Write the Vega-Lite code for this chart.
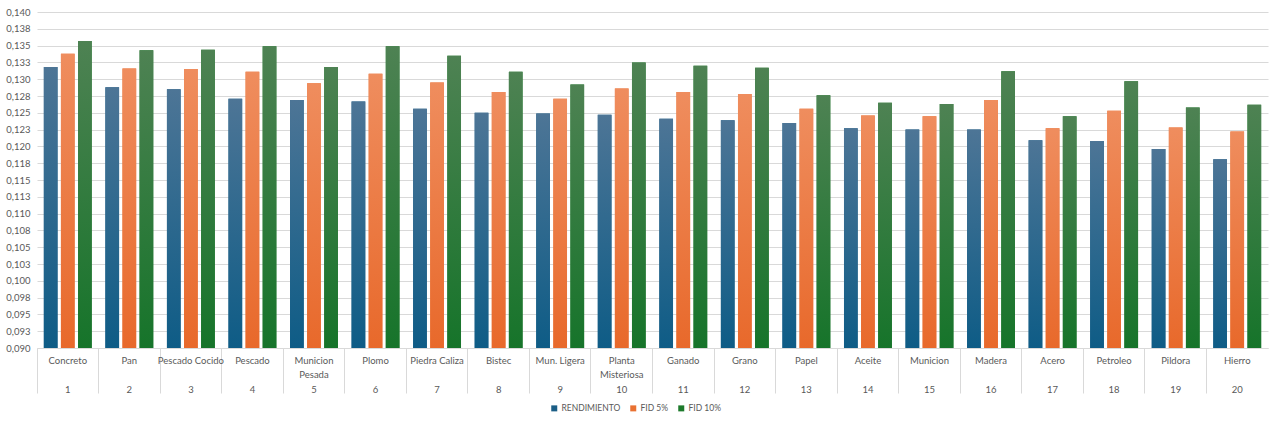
{
  "$schema": "https://vega.github.io/schema/vega-lite/v6.json",
  "description": "Rendimiento y FID por producto",
  "autosize": {"type": "none"},
  "padding": {"left": 37, "top": 12, "right": 12, "bottom": 77},
  "width": 1231,
  "height": 336,
  "background": "white",
  "config": {
    "font": "Lato",
    "view": {"stroke": null},
    "axis": {"labelColor": "#595959", "labelFont": "Lato", "labelFontSize": 9.5}
  },
  "data": {
    "values": [
      {"n": 1, "nombre": "Concreto", "serie": "RENDIMIENTO", "valor": 0.1318},
      {"n": 1, "nombre": "Concreto", "serie": "FID 5%", "valor": 0.1338},
      {"n": 1, "nombre": "Concreto", "serie": "FID 10%", "valor": 0.1357},
      {"n": 2, "nombre": "Pan", "serie": "RENDIMIENTO", "valor": 0.1288},
      {"n": 2, "nombre": "Pan", "serie": "FID 5%", "valor": 0.1316},
      {"n": 2, "nombre": "Pan", "serie": "FID 10%", "valor": 0.1343},
      {"n": 3, "nombre": "Pescado Cocido", "serie": "RENDIMIENTO", "valor": 0.1285},
      {"n": 3, "nombre": "Pescado Cocido", "serie": "FID 5%", "valor": 0.1315},
      {"n": 3, "nombre": "Pescado Cocido", "serie": "FID 10%", "valor": 0.1344},
      {"n": 4, "nombre": "Pescado", "serie": "RENDIMIENTO", "valor": 0.1271},
      {"n": 4, "nombre": "Pescado", "serie": "FID 5%", "valor": 0.1311},
      {"n": 4, "nombre": "Pescado", "serie": "FID 10%", "valor": 0.1349},
      {"n": 5, "nombre": "Municion Pesada", "serie": "RENDIMIENTO", "valor": 0.1269},
      {"n": 5, "nombre": "Municion Pesada", "serie": "FID 5%", "valor": 0.1294},
      {"n": 5, "nombre": "Municion Pesada", "serie": "FID 10%", "valor": 0.1318},
      {"n": 6, "nombre": "Plomo", "serie": "RENDIMIENTO", "valor": 0.1267},
      {"n": 6, "nombre": "Plomo", "serie": "FID 5%", "valor": 0.1308},
      {"n": 6, "nombre": "Plomo", "serie": "FID 10%", "valor": 0.1349},
      {"n": 7, "nombre": "Piedra Caliza", "serie": "RENDIMIENTO", "valor": 0.1256},
      {"n": 7, "nombre": "Piedra Caliza", "serie": "FID 5%", "valor": 0.1295},
      {"n": 7, "nombre": "Piedra Caliza", "serie": "FID 10%", "valor": 0.1335},
      {"n": 8, "nombre": "Bistec", "serie": "RENDIMIENTO", "valor": 0.1250},
      {"n": 8, "nombre": "Bistec", "serie": "FID 5%", "valor": 0.1281},
      {"n": 8, "nombre": "Bistec", "serie": "FID 10%", "valor": 0.1311},
      {"n": 9, "nombre": "Mun. Ligera", "serie": "RENDIMIENTO", "valor": 0.1249},
      {"n": 9, "nombre": "Mun. Ligera", "serie": "FID 5%", "valor": 0.1271},
      {"n": 9, "nombre": "Mun. Ligera", "serie": "FID 10%", "valor": 0.1292},
      {"n": 10, "nombre": "Planta Misteriosa", "serie": "RENDIMIENTO", "valor": 0.1247},
      {"n": 10, "nombre": "Planta Misteriosa", "serie": "FID 5%", "valor": 0.1286},
      {"n": 10, "nombre": "Planta Misteriosa", "serie": "FID 10%", "valor": 0.1325},
      {"n": 11, "nombre": "Ganado", "serie": "RENDIMIENTO", "valor": 0.1241},
      {"n": 11, "nombre": "Ganado", "serie": "FID 5%", "valor": 0.1281},
      {"n": 11, "nombre": "Ganado", "serie": "FID 10%", "valor": 0.1320},
      {"n": 12, "nombre": "Grano", "serie": "RENDIMIENTO", "valor": 0.1239},
      {"n": 12, "nombre": "Grano", "serie": "FID 5%", "valor": 0.1278},
      {"n": 12, "nombre": "Grano", "serie": "FID 10%", "valor": 0.1317},
      {"n": 13, "nombre": "Papel", "serie": "RENDIMIENTO", "valor": 0.1235},
      {"n": 13, "nombre": "Papel", "serie": "FID 5%", "valor": 0.1256},
      {"n": 13, "nombre": "Papel", "serie": "FID 10%", "valor": 0.1276},
      {"n": 14, "nombre": "Aceite", "serie": "RENDIMIENTO", "valor": 0.1227},
      {"n": 14, "nombre": "Aceite", "serie": "FID 5%", "valor": 0.1246},
      {"n": 14, "nombre": "Aceite", "serie": "FID 10%", "valor": 0.1265},
      {"n": 15, "nombre": "Municion", "serie": "RENDIMIENTO", "valor": 0.1225},
      {"n": 15, "nombre": "Municion", "serie": "FID 5%", "valor": 0.1245},
      {"n": 15, "nombre": "Municion", "serie": "FID 10%", "valor": 0.1263},
      {"n": 16, "nombre": "Madera", "serie": "RENDIMIENTO", "valor": 0.1225},
      {"n": 16, "nombre": "Madera", "serie": "FID 5%", "valor": 0.1269},
      {"n": 16, "nombre": "Madera", "serie": "FID 10%", "valor": 0.1312},
      {"n": 17, "nombre": "Acero", "serie": "RENDIMIENTO", "valor": 0.1209},
      {"n": 17, "nombre": "Acero", "serie": "FID 5%", "valor": 0.1227},
      {"n": 17, "nombre": "Acero", "serie": "FID 10%", "valor": 0.1245},
      {"n": 18, "nombre": "Petroleo", "serie": "RENDIMIENTO", "valor": 0.1208},
      {"n": 18, "nombre": "Petroleo", "serie": "FID 5%", "valor": 0.1253},
      {"n": 18, "nombre": "Petroleo", "serie": "FID 10%", "valor": 0.1297},
      {"n": 19, "nombre": "Pildora", "serie": "RENDIMIENTO", "valor": 0.1196},
      {"n": 19, "nombre": "Pildora", "serie": "FID 5%", "valor": 0.1228},
      {"n": 19, "nombre": "Pildora", "serie": "FID 10%", "valor": 0.1258},
      {"n": 20, "nombre": "Hierro", "serie": "RENDIMIENTO", "valor": 0.1181},
      {"n": 20, "nombre": "Hierro", "serie": "FID 5%", "valor": 0.1222},
      {"n": 20, "nombre": "Hierro", "serie": "FID 10%", "valor": 0.1262}
    ]
  },
  "encoding": {
    "x": {
      "field": "nombre",
      "type": "nominal",
      "sort": null,
      "title": null,
      "scale": {"paddingInner": 0, "paddingOuter": 0},
      "axis": {
        "labelAngle": 0,
        "bandPosition": 0,
        "labelAlign": "center",
        "labelBaseline": "top",
        "labelPadding": -38,
        "labelLineHeight": 14.5,
        "labelExpr": "length(datum.value) > 14 ? [split(datum.value, ' ')[0], split(datum.value, ' ')[1], '' + (indexof(domain('x'), datum.value) + 1)] : [datum.value, '\u200b', '' + (indexof(domain('x'), datum.value) + 1)]",
        "tickSize": 45,
        "tickColor": "#d9d9d9",
        "domainColor": "#d9d9d9",
        "grid": false
      }
    },
    "xOffset": {
      "field": "serie",
      "type": "nominal",
      "scale": {"domain": ["RENDIMIENTO", "FID 5%", "FID 10%"], "paddingInner": 0.2, "paddingOuter": 0.4}
    },
    "y": {
      "field": "valor",
      "type": "quantitative",
      "title": null,
      "scale": {"domain": [0.09, 0.14], "zero": false, "nice": false, "clamp": true},
      "axis": {
        "values": [0.09, 0.0925, 0.095, 0.0975, 0.1, 0.1025, 0.105, 0.1075, 0.11, 0.1125, 0.115, 0.1175, 0.12, 0.1225, 0.125, 0.1275, 0.13, 0.1325, 0.135, 0.1375, 0.14],
        "labelExpr": "replace(format(datum.value + 0.000001, '.3f'), '.', ',')",
        "domain": false,
        "ticks": false,
        "labelPadding": 7,
        "gridColor": "#d9d9d9"
      }
    }
  },
  "layer": [
    {
      "mark": {"type": "bar", "clip": true},
      "encoding": {
        "color": {
          "field": "serie",
          "type": "nominal",
          "scale": {"domain": ["RENDIMIENTO", "FID 5%", "FID 10%"], "range": ["#1b5e86", "#e97132", "#1d7a2b"]},
          "legend": {
            "title": null,
            "orient": "none",
            "direction": "horizontal",
            "legendX": 513,
            "legendY": 392,
            "symbolType": "square",
            "symbolSize": 36,
            "labelFontSize": 8.5,
            "labelOffset": 3,
            "labelColor": "#595959",
            "labelFont": "Lato",
            "columnPadding": 8
          }
        }
      }
    },
    {
      "transform": [{"filter": "datum.serie === 'RENDIMIENTO'"}],
      "mark": {
        "type": "bar",
        "clip": true,
        "color": {"gradient": "linear", "x1": 0, "y1": 0, "x2": 0, "y2": 1, "stops": [{"offset": 0, "color": "#4d7596"}, {"offset": 1, "color": "#0e5c86"}]}
      }
    },
    {
      "transform": [{"filter": "datum.serie === 'FID 5%'"}],
      "mark": {
        "type": "bar",
        "clip": true,
        "color": {"gradient": "linear", "x1": 0, "y1": 0, "x2": 0, "y2": 1, "stops": [{"offset": 0, "color": "#ef8d5e"}, {"offset": 1, "color": "#e8692b"}]}
      }
    },
    {
      "transform": [{"filter": "datum.serie === 'FID 10%'"}],
      "mark": {
        "type": "bar",
        "clip": true,
        "color": {"gradient": "linear", "x1": 0, "y1": 0, "x2": 0, "y2": 1, "stops": [{"offset": 0, "color": "#4e8253"}, {"offset": 1, "color": "#16742a"}]}
      }
    }
  ]
}
